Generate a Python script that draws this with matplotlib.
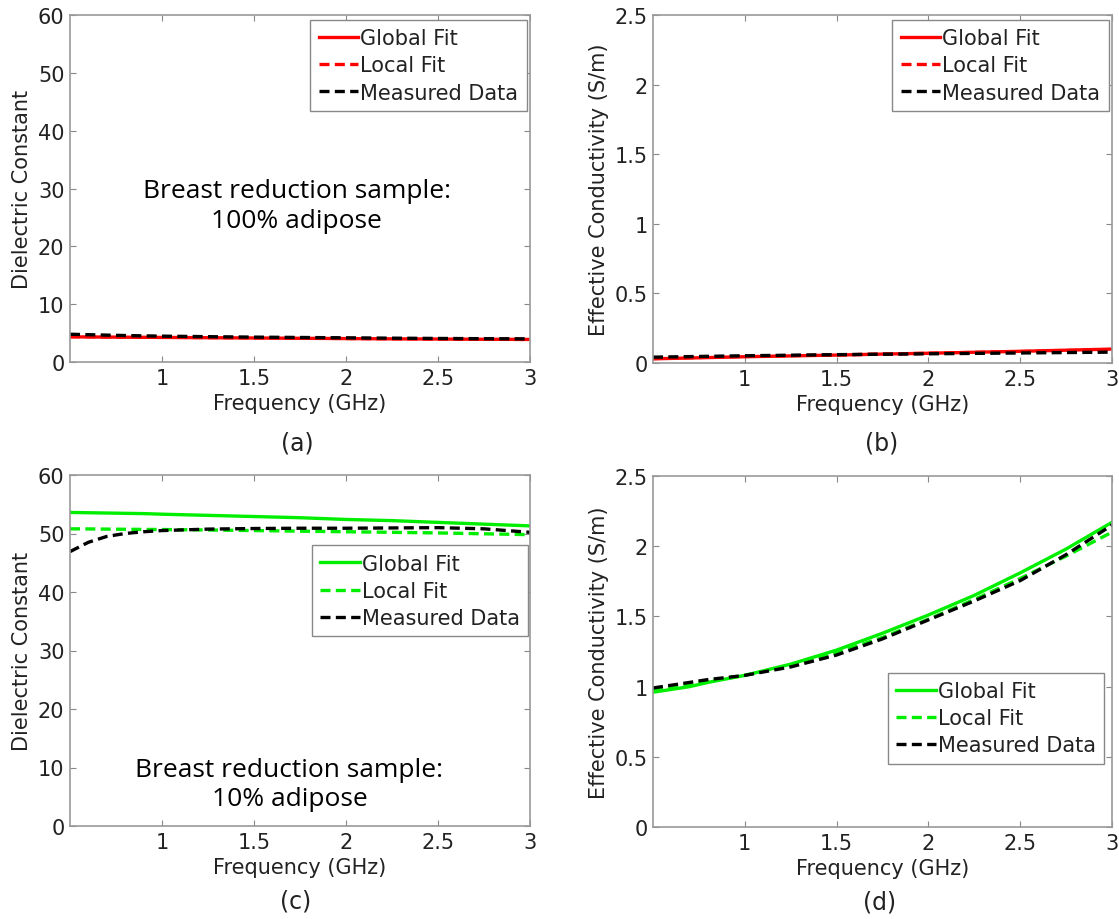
import matplotlib.pyplot as plt
import numpy as np

plt.rcParams['font.family'] = ['DejaVu Sans']

# frequency samples (GHz)
freq = [0.5, 0.6, 0.7, 0.8, 0.9, 1.0, 1.25, 1.5, 1.75, 2.0, 2.25, 2.5, 2.75, 3.0]

# (a) 100% adipose, dielectric constant
a_global = [4.35, 4.33, 4.31, 4.29, 4.27, 4.25, 4.20, 4.15, 4.10, 4.05, 4.00, 3.97, 3.93, 3.90]
a_local = [4.40, 4.37, 4.35, 4.32, 4.30, 4.28, 4.22, 4.17, 4.12, 4.07, 4.02, 3.98, 3.94, 3.90]
a_meas = [4.80, 4.72, 4.65, 4.58, 4.52, 4.47, 4.38, 4.30, 4.24, 4.18, 4.12, 4.07, 4.03, 4.00]

# (b) 100% adipose, conductivity (S/m)
b_global = [0.030, 0.033, 0.036, 0.039, 0.042, 0.045, 0.051, 0.057, 0.064, 0.070, 0.077, 0.084, 0.092, 0.100]
b_local = [0.032, 0.035, 0.038, 0.041, 0.044, 0.047, 0.053, 0.058, 0.064, 0.070, 0.076, 0.082, 0.089, 0.096]
b_meas = [0.042, 0.044, 0.046, 0.048, 0.050, 0.052, 0.056, 0.060, 0.063, 0.066, 0.069, 0.072, 0.075, 0.078]

# (c) 10% adipose, dielectric constant
c_global = [53.6, 53.55, 53.5, 53.45, 53.4, 53.3, 53.1, 52.9, 52.7, 52.4, 52.2, 51.9, 51.6, 51.3]
c_local = [50.8, 50.78, 50.75, 50.72, 50.7, 50.68, 50.6, 50.5, 50.4, 50.3, 50.2, 50.1, 49.95, 49.8]
c_meas = [46.9, 48.5, 49.5, 50.0, 50.3, 50.5, 50.75, 50.85, 50.9, 50.9, 50.95, 51.0, 50.8, 50.2]

# (d) 10% adipose, conductivity (S/m)
d_global = [0.96, 0.98, 1.00, 1.03, 1.055, 1.08, 1.16, 1.26, 1.38, 1.51, 1.65, 1.81, 1.98, 2.17]
d_local = [0.98, 1.00, 1.02, 1.04, 1.06, 1.08, 1.15, 1.24, 1.35, 1.48, 1.62, 1.77, 1.93, 2.10]
d_meas = [0.99, 1.01, 1.03, 1.05, 1.065, 1.08, 1.14, 1.225, 1.34, 1.475, 1.61, 1.755, 1.94, 2.15]

labels = ['Global Fit', 'Local Fit', 'Measured Data']
fs = 15

fig = plt.figure(figsize=(11.19, 9.2), dpi=100)
W, H = 1119, 920

def make_ax(l, r, t, b):
    return fig.add_axes([l / W, 1 - b / H, (r - l) / W, (b - t) / H])

axs = [make_ax(70, 530, 16, 363), make_ax(653, 1112, 16, 364),
       make_ax(70, 530, 476, 827), make_ax(653, 1112, 477, 828)]

panels = [
    (a_global, a_local, a_meas, 'red', 60, 10, 'Dielectric Constant'),
    (b_global, b_local, b_meas, 'red', 2.5, 0.5, 'Effective Conductivity (S/m)'),
    (c_global, c_local, c_meas, '#00ee00', 60, 10, 'Dielectric Constant'),
    (d_global, d_local, d_meas, '#00ee00', 2.5, 0.5, 'Effective Conductivity (S/m)'),
]

for ax, (g, l, m, col, ymax, ystep, ylab) in zip(axs, panels):
    ax.plot(freq, g, color=col, lw=2.4, label=labels[0])
    ax.plot(freq, l, color=col, lw=2.4, ls=(0, (3, 1.6)), label=labels[1])
    ax.plot(freq, m, color='black', lw=2.4, ls=(0, (3, 1.6)), label=labels[2])
    ax.set_xlim(0.5, 3)
    ax.set_ylim(0, ymax)
    ax.set_xticks([1, 1.5, 2, 2.5, 3])
    ax.set_xticklabels(['1', '1.5', '2', '2.5', '3'])
    ax.set_yticks(np.arange(0, ymax + ystep / 2, ystep))
    ax.yaxis.set_major_formatter(plt.FuncFormatter(lambda v, p: f'{v:g}'))
    ax.tick_params(direction='in', top=True, right=True, length=4,
                   color='#888888', labelsize=fs, labelcolor='#222222', pad=4)
    for s in ax.spines.values():
        s.set_color('#999999')
        s.set_linewidth(1.2)
    ax.set_xlabel('Frequency (GHz)', fontsize=fs, labelpad=4, color='#222222')
    ax.set_ylabel(ylab, fontsize=fs, labelpad=4, color='#222222')

leg_kw = dict(fontsize=fs, fancybox=False, framealpha=1, edgecolor='#888888',
              handlelength=1.9, handletextpad=0.1, labelspacing=0.35,
              borderpad=0.4, borderaxespad=0)
for ax, anchor in zip(axs, [(0.993, 0.986), (0.993, 0.986), (0.996, 0.80), (0.983, 0.44)]):
    lg = ax.legend(loc='upper right', bbox_to_anchor=anchor, **leg_kw)
    for t in lg.get_texts():
        t.set_color('#222222')

axs[0].text(0.493, 0.45, 'Breast reduction sample:\n100% adipose', transform=axs[0].transAxes,
            ha='center', va='center', fontsize=19, family='Open Sans', linespacing=1.25)
axs[2].text(0.477, 0.12, 'Breast reduction sample:\n10% adipose', transform=axs[2].transAxes,
            ha='center', va='center', fontsize=19, family='Open Sans', linespacing=1.25)

for lab, x, y in [('(a)', 297, 444), ('(b)', 882, 444), ('(c)', 296, 902), ('(d)', 880, 903)]:
    fig.text(x / W, 1 - y / H, lab, ha='center', va='center', fontsize=17, color='#222222')

fig.savefig('out.png', dpi=100)
